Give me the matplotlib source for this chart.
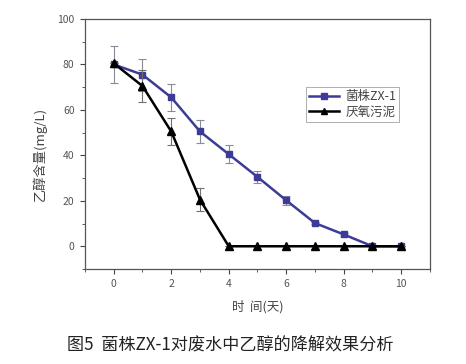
import matplotlib.pyplot as plt
from matplotlib.lines import Line2D
from matplotlib.ticker import MultipleLocator

plt.rcParams['font.family'] = ['Noto Sans CJK SC', 'DejaVu Sans']

days = [0, 1, 2, 3, 4, 5, 6, 7, 8, 9, 10]
strain = [80, 75.5, 65.5, 50.5, 40.5, 30.5, 20.2, 10.2, 5.2, 0, 0]
strain_err = [8, 7, 6, 5, 4, 2.8, 2, 0.6, 0.6, 0, 0]
sludge = [80.5, 70.5, 50.5, 20.5, 0, 0, 0, 0, 0, 0, 0]
sludge_err = [0, 7, 6, 5, 0, 0, 0, 0, 0, 0, 0]

labels = ['菌株ZX-1', '厌氧污泥']
blue = '#3c3c96'

fig = plt.figure(figsize=(4.66, 3.64), dpi=100)
ax = fig.add_axes([0.1824, 0.261, 0.7403, 0.6868])

ax.errorbar(days, strain, yerr=strain_err, color=blue, lw=1.8, marker='s',
            ms=5, ecolor='#8a8a9a', elinewidth=0.8, capsize=3, capthick=0.8,
            zorder=3)
ax.errorbar(days, sludge, yerr=sludge_err, color='black', lw=1.8, marker='^',
            ms=5.5, ecolor='#707070', elinewidth=0.8, capsize=3, capthick=0.8,
            zorder=4)

ax.set_xlim(-1, 11)
ax.set_ylim(-10, 100)
ax.set_xticks([0, 2, 4, 6, 8, 10])
ax.set_yticks([0, 20, 40, 60, 80, 100])
ax.xaxis.set_minor_locator(MultipleLocator(1))
ax.yaxis.set_minor_locator(MultipleLocator(10))
ax.tick_params(which='major', direction='out', length=3.5, width=0.8,
               colors='#444444', labelsize=7.5, labelcolor='#555555', pad=4)
ax.tick_params(which='minor', direction='out', length=2, width=0.6,
               colors='#444444')
ax.tick_params(top=False, right=False, which='both')
for s in ax.spines.values():
    s.set_color('#555555')
    s.set_linewidth(0.9)

ax.set_xlabel('时  间(天)', fontsize=9, color='#444444', labelpad=8)
ax.set_ylabel('乙醇含量(mg/L)', fontsize=9.5, color='#444444')
ax.yaxis.set_label_coords(-0.11, 0.46)

handles = [Line2D([], [], color=blue, lw=1.8, marker='s', ms=4),
           Line2D([], [], color='black', lw=1.8, marker='^', ms=4.5)]
leg = ax.legend(handles, labels, loc='upper left',
                bbox_to_anchor=(0.64, 0.728), fontsize=9,
                frameon=True, fancybox=False, handlelength=2.4,
                borderpad=0.25, labelspacing=0.2, handletextpad=0.5,
                borderaxespad=0)
leg.get_frame().set_edgecolor('#999999')
leg.get_frame().set_linewidth(0.7)
for t in leg.get_texts():
    t.set_color('#444444')

fig.text(0.143, 0.052, '图5  菌株ZX-1对废水中乙醇的降解效果分析', fontsize=12.3,
         color='#222222', ha='left', va='center')

fig.savefig('out.png', dpi=100)
